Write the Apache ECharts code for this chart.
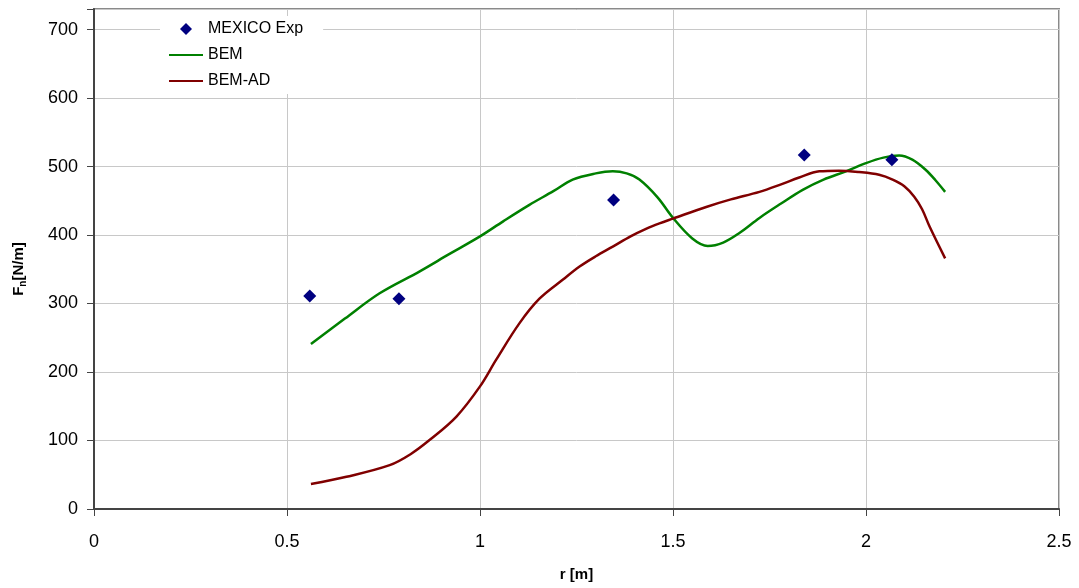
<!DOCTYPE html>
<html>
<head>
<meta charset="utf-8">
<script src="https://cdn.jsdelivr.net/npm/echarts@6/dist/echarts.min.js"></script>
<style>html,body{margin:0;padding:0;background:#fff}#c{width:1079px;height:588px}</style>
</head>
<body>
<div id="c"></div>
<script>
var expR = [0.559, 0.790, 1.346, 1.840, 2.067];
var expF = [311, 307, 451, 517, 510];

var bemR = [0.562, 0.65, 0.74, 0.844, 0.92, 1.0, 1.06, 1.128, 1.19, 1.24, 1.30, 1.344, 1.38, 1.413, 1.46, 1.5, 1.55, 1.59, 1.63, 1.672, 1.724, 1.78, 1.836, 1.89, 1.948, 2.0, 2.045, 2.086, 2.12, 2.155, 2.18, 2.205];
var bemF = [241, 278, 315, 347, 372, 398, 420, 444, 464, 481, 490, 493, 490, 481, 455, 425, 395, 384, 389, 403, 425, 446, 466, 481, 493, 505, 513, 516, 510, 495, 480, 463];

var adR = [0.562, 0.654, 0.766, 0.82, 0.870, 0.939, 1.0, 1.042, 1.102, 1.154, 1.215, 1.258, 1.30, 1.344, 1.39, 1.430, 1.465, 1.5, 1.586, 1.65, 1.724, 1.78, 1.827, 1.879, 1.93, 1.982, 2.034, 2.069, 2.100, 2.125, 2.145, 2.165, 2.205];
var adF = [36.5, 47, 64, 80, 101, 135, 179, 218, 271, 307, 335, 354, 369, 383, 398, 409, 417, 424, 441, 452, 463, 474, 484, 493, 494, 492, 488, 481, 471, 456, 438, 412, 366];

function pairs(a, b) { return a.map(function (v, i) { return [v, b[i]]; }); }

var chart = echarts.init(document.getElementById('c'), null, { renderer: 'canvas' });
var font = 'Arial, "Liberation Sans", sans-serif';
chart.setOption({
  animation: false,
  backgroundColor: '#fff',
  textStyle: { fontFamily: font },
  grid: { left: 94, right: 20, top: 9, bottom: 79, show: true, borderColor: '#8a8a8a', borderWidth: 2, backgroundColor: 'transparent', containLabel: false, outerBoundsMode: 'none' },
  legend: {
    orient: 'vertical', left: 160, top: 16,
    backgroundColor: '#fff', padding: [5, 20, 5, 8],
    itemWidth: 34, itemHeight: 12, itemGap: 10,
    textStyle: { fontSize: 16, color: '#000', fontFamily: font },
    data: [
      { name: 'MEXICO Exp', icon: 'path://M0,-1L1,0L0,1L-1,0Z', itemStyle: { color: '#000080', opacity: 1 } },
      { name: 'BEM', itemStyle: { opacity: 0 } },
      { name: 'BEM-AD', itemStyle: { opacity: 0 } }
    ]
  },
  xAxis: {
    type: 'value', min: 0, max: 2.5, interval: 0.5,
    name: 'r [m]', nameLocation: 'middle', nameGap: 58,
    nameTextStyle: { fontSize: 15, fontWeight: 'bold', color: '#000', fontFamily: font },
    axisLine: { show: true, onZero: false, lineStyle: { color: '#444', width: 2 } },
    axisTick: { show: true, inside: false, length: 7, lineStyle: { color: '#444' } },
    axisLabel: { fontSize: 18, color: '#000', margin: 24, fontFamily: font },
    splitLine: { show: true, lineStyle: { color: '#c8c8c8', width: 1 } }
  },
  yAxis: {
    type: 'value', min: 0, max: 730, interval: 100,
    name: '{b|F}{s|n}{b|[N/m]}', nameLocation: 'middle', nameGap: 66, nameRotate: 90,
    nameTextStyle: {
      color: '#000', fontFamily: font, padding: [0, 20, 0, 0],
      rich: {
        b: { fontSize: 15, fontWeight: 'bold', color: '#000', fontFamily: font },
        s: { fontSize: 10, fontWeight: 'bold', color: '#000', fontFamily: font, padding: [8, 0, 0, 0] }
      }
    },
    axisLine: { show: true, lineStyle: { color: '#444', width: 2 } },
    axisTick: { show: true, inside: false, length: 7, lineStyle: { color: '#444' } },
    axisLabel: {
      fontSize: 18, color: '#000', margin: 16, fontFamily: font,
      formatter: function (v) { return v % 100 === 0 ? String(v) : ''; }
    },
    splitLine: { show: true, lineStyle: { color: '#c8c8c8', width: 1 } }
  },
  series: [
    {
      name: 'MEXICO Exp', type: 'scatter', data: pairs(expR, expF),
      symbol: 'diamond', symbolSize: 13,
      itemStyle: { color: '#000080', opacity: 1 }, z: 5
    },
    {
      name: 'BEM', type: 'line', data: pairs(bemR, bemF),
      smooth: 0.35, showSymbol: false, symbol: 'none',
      lineStyle: { color: '#008000', width: 2.5 }, itemStyle: { color: '#008000' }
    },
    {
      name: 'BEM-AD', type: 'line', data: pairs(adR, adF),
      smooth: 0.35, showSymbol: false, symbol: 'none',
      lineStyle: { color: '#800000', width: 2.5 }, itemStyle: { color: '#800000' }
    }
  ]
});
</script>
</body>
</html>
